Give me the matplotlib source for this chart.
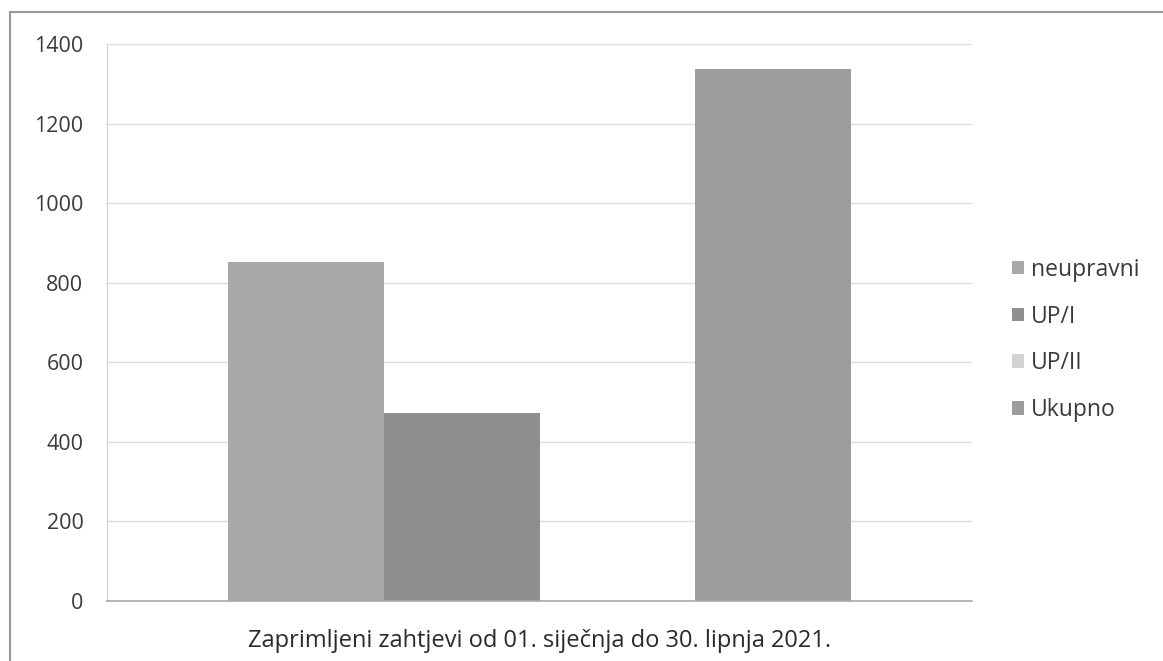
import matplotlib.pyplot as plt
import numpy as np
from matplotlib.patches import Rectangle

series = ["neupravni", "UP/I", "UP/II", "Ukupno"]
values = [852, 472, 0, 1337]
colors = ["#a9a9a9", "#8e8e8e", "#d3d3d3", "#9d9d9d"]
category = "Zaprimljeni zahtjevi od 01. siječnja do 30. lipnja 2021."
yticks = [0, 200, 400, 600, 800, 1000, 1200, 1400]

plt.rcParams["font.family"] = ["Open Sans", "DejaVu Sans"]

fig = plt.figure(figsize=(11.63, 6.61), dpi=100)
ax = fig.add_axes([107 / 1163, 60 / 661, 865 / 1163, 557 / 661])

# frame around the whole chart, like the scanned page
fig.patches.append(Rectangle((10 / 1163, -0.01), 1.0, 1 - 12 / 661 + 0.01,
                             transform=fig.transFigure, fill=False,
                             edgecolor="#9a9a9a", linewidth=1.5))

width = 0.18
offsets = (np.arange(len(series)) - 1.5) * width
for off, val, col, name in zip(offsets, values, colors, series):
    ax.bar(off, val, width=width, color=col, label=name, edgecolor="none")

ax.set_xlim(-0.5, 0.5)
ax.set_ylim(0, 1400)
ax.set_yticks(yticks)
ax.set_yticklabels([str(t) for t in yticks], fontsize=15.5, color="#3a3a3a")
ax.set_xticks([0])
ax.set_xticklabels([category], fontsize=17, color="#2a2a2a")
ax.tick_params(axis="y", length=0, pad=17)
ax.tick_params(axis="x", length=0, pad=20)

ax.grid(axis="y", color="#dddddd", linewidth=1)
ax.set_axisbelow(True)
for s in ["top", "right"]:
    ax.spines[s].set_visible(False)
ax.spines["left"].set_color("#d0d0d0")
ax.spines["bottom"].set_color("#a8a8a8")
ax.spines["bottom"].set_linewidth(1.2)

leg = fig.legend(loc="center left", bbox_to_anchor=(991 / 1163, 1 - 340 / 661),
                 frameon=False, fontsize=16.5, handlelength=0.55, handleheight=0.55,
                 handletextpad=0.3, labelspacing=1.0)
for t in leg.get_texts():
    t.set_color("#3a3a3a")

fig.savefig("out.png", dpi=100)
